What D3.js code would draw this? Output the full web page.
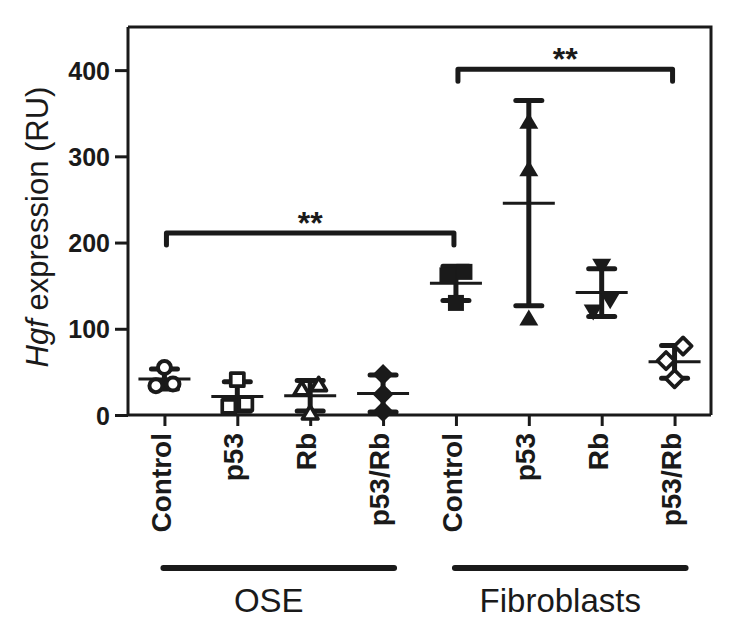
<!DOCTYPE html>
<html>
<head>
<meta charset="utf-8">
<script src="https://cdn.jsdelivr.net/npm/d3@7"></script>
<style>
  html, body { margin: 0; padding: 0; background: #fff; }
  text { font-family: "Liberation Sans", Arial, Helvetica, sans-serif; fill: #1a1a1a; }
</style>
</head>
<body>
<svg id="chart" width="739" height="635"></svg>
<script>
// ---- data ----
const categories = ["Control", "p53", "Rb", "p53/Rb", "Control", "p53", "Rb", "p53/Rb"];
const groupNames = ["OSE", "Fibroblasts"];
const groupStart = [0, 4];
const groupEnd = [3, 7];
const valuesOSEControl = [55, 36, 34];
const valuesOSEp53 = [41, 13, 10];
const valuesOSERb = [35, 30, 2];
const valuesOSEp53Rb = [47, 24, 4];
const valuesFibControl = [166, 162, 130];
const valuesFibp53 = [340, 285, 112];
const valuesFibRb = [173, 133, 120];
const valuesFibp53Rb = [80, 63, 42];
const seriesValues = [valuesOSEControl, valuesOSEp53, valuesOSERb, valuesOSEp53Rb,
                      valuesFibControl, valuesFibp53, valuesFibRb, valuesFibp53Rb];
const markerTypes = ["circleOpen", "squareOpen", "triangleOpen", "diamondFilled",
                     "squareFilled", "triangleFilled", "triangleDownFilled", "diamondOpen"];
const yTicks = [0, 100, 200, 300, 400];
const compFrom = [0, 4];
const compTo = [4, 7];
const compLevel = [211, 401];
const compLabel = ["**", "**"];

// ---- layout ----
(function () {
const svg = d3.select("#chart");
const mLeft = 128, mRight = 711, mTop = 27, mBottom = 415;
const ink = "#1a1a1a";

const x = d3.scalePoint().domain(d3.range(categories.length)).range([mLeft, mRight]).padding(0.5);
const y = d3.scaleLinear().domain([0, 450]).range([mBottom, mTop]);

// frame (top and right)
svg.append("path")
  .attr("d", `M${mLeft},${mTop}H${mRight}V${mBottom}`)
  .attr("fill", "none").attr("stroke", ink).attr("stroke-width", 3);

// y axis
const yAxis = svg.append("g").attr("transform", `translate(${mLeft},0)`)
  .call(d3.axisLeft(y).tickValues(yTicks).tickSize(13).tickPadding(5).tickSizeOuter(0));
yAxis.select(".domain").attr("stroke", ink).attr("stroke-width", 3)
  .attr("d", `M0,${mBottom}V${mTop}`);
yAxis.selectAll(".tick line").attr("stroke", ink).attr("stroke-width", 3);
yAxis.selectAll(".tick text").style("font-size", "25px").style("font-weight", "bold")
  .attr("fill", ink).attr("dy", "0.36em");

// x axis
const xAxis = svg.append("g").attr("transform", `translate(0,${mBottom})`)
  .call(d3.axisBottom(x).tickSize(11).tickSizeOuter(0).tickFormat(""));
xAxis.select(".domain").attr("stroke", ink).attr("stroke-width", 3)
  .attr("d", `M${mLeft},0H${mRight}`);
xAxis.selectAll(".tick line").attr("stroke", ink).attr("stroke-width", 3);

// x tick labels (rotated)
svg.append("g").selectAll("text").data(categories).join("text")
  .attr("transform", (d, i) => `translate(${x(i) - 4},433) rotate(-90)`)
  .attr("text-anchor", "end").attr("dy", "0.36em")
  .style("font-size", "28px").style("font-weight", "bold")
  .text(d => d);

// group bars + labels
groupNames.forEach((g, gi) => {
  const x0 = x(groupStart[gi]) - 1, x1 = x(groupEnd[gi]) + 11;
  svg.append("line").attr("x1", x0).attr("x2", x1).attr("y1", 568).attr("y2", 568)
    .attr("stroke", ink).attr("stroke-width", 6).attr("stroke-linecap", "round");
  svg.append("text").attr("x", (x0 + x1) / 2 - 10).attr("y", 612)
    .attr("text-anchor", "middle").style("font-size", "33px").text(g);
});

// y axis label
const yl = svg.append("text")
  .attr("transform", `translate(48,${(mTop + mBottom) / 2 + 6}) rotate(-90)`)
  .attr("text-anchor", "middle").style("font-size", "31px");
yl.append("tspan").style("font-style", "italic").text("Hgf");
yl.append("tspan").text(" expression (RU)");

// significance brackets
compFrom.forEach((f, ci) => {
  const x0 = x(f) + 2, x1 = x(compTo[ci]) - 2, yy = y(compLevel[ci]);
  svg.append("path")
    .attr("d", `M${x0},${yy + 12}V${yy}H${x1}V${yy + 12}`)
    .attr("fill", "none").attr("stroke", ink).attr("stroke-width", 5)
    .attr("stroke-linecap", "round").attr("stroke-linejoin", "round");
  svg.append("text").attr("x", (x0 + x1) / 2).attr("y", yy + 1)
    .attr("text-anchor", "middle").style("font-size", "32px").style("font-weight", "bold")
    .text(compLabel[ci]);
});

// error bars (mean ± SD)
const stats = seriesValues.map(v => ({ mean: d3.mean(v), sd: d3.deviation(v) }));
const eb = svg.append("g");
stats.forEach((s, i) => {
  const cx = x(i);
  eb.append("line").attr("x1", cx).attr("x2", cx)
    .attr("y1", y(s.mean + s.sd)).attr("y2", y(Math.max(0, s.mean - s.sd)))
    .attr("stroke", ink).attr("stroke-width", 5);
  [s.mean + s.sd, s.mean - s.sd].forEach(v => {
    eb.append("line").attr("x1", cx - 13).attr("x2", cx + 13)
      .attr("y1", y(v)).attr("y2", y(v))
      .attr("stroke", ink).attr("stroke-width", 5).attr("stroke-linecap", "round");
  });
  eb.append("line").attr("x1", cx - 26).attr("x2", cx + 26)
    .attr("y1", y(s.mean)).attr("y2", y(s.mean))
    .attr("stroke", ink).attr("stroke-width", 3);
});

const shapes = {
  square: "M-8,-8H8V8H-8Z",
  triangle: "M0,-9L9.5,7H-9.5Z",
  triangleDown: "M0,9L9.5,-7H-9.5Z",
  diamond: "M0,-10.5L10.5,0L0,10.5L-10.5,0Z"
};

// beeswarm-like row spreading
const spacing = 17;
const pts = svg.append("g");
seriesValues.forEach((vals, i) => {
  const sorted = vals.slice().sort((a, b) => a - b);
  const rows = [];
  sorted.forEach(v => {
    const last = rows[rows.length - 1];
    if (last && Math.abs(y(v) - y(last[0])) < spacing) last.push(v);
    else rows.push([v]);
  });
  const type = markerTypes[i];
  const filled = type.endsWith("Filled");
  const base = type.replace("Filled", "").replace("Open", "");
  rows.forEach(row => {
    row.forEach((v, k) => {
      const cx = x(i) + (k - (row.length - 1) / 2) * spacing;
      const cy = y(v);
      if (base === "circle") {
        pts.append("circle").attr("cx", cx).attr("cy", cy).attr("r", filled ? 8 : 6.5)
          .attr("fill", filled ? ink : "#fff").attr("stroke", ink).attr("stroke-width", filled ? 0 : 4);
      } else {
        pts.append("path").attr("d", shapes[base])
          .attr("transform", `translate(${cx},${cy})${filled ? "" : " scale(0.82)"}`)
          .attr("fill", filled ? ink : "#fff")
          .attr("stroke", ink).attr("stroke-width", filled ? 0 : 4.5)
          .attr("stroke-linejoin", "round");
      }
    });
  });
});
})();
</script>
</body>
</html>
